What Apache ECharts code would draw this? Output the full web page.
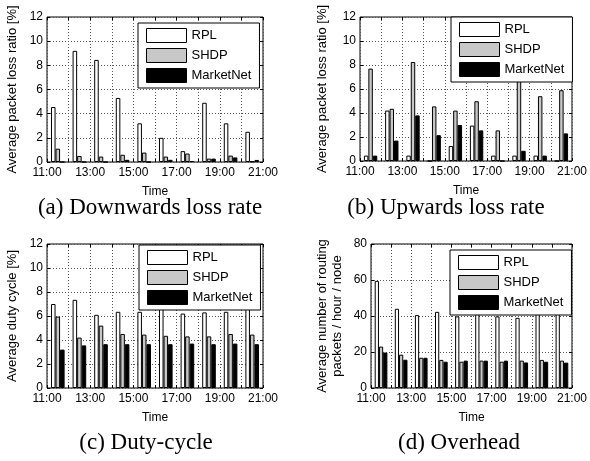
<!DOCTYPE html>
<html><head><meta charset="utf-8">
<script src="https://cdn.jsdelivr.net/npm/echarts@6/dist/echarts.min.js"></script>
<style>html,body{margin:0;padding:0;background:#fff}#c{width:590px;height:461px}</style>
</head><body><div id="c"></div>
<script>
// ---- data ----
const hourGroups = ['11:00','12:00','13:00','14:00','15:00','16:00','17:00','18:00','19:00','20:00'];
const xTickLabels = ['11:00','13:00','15:00','17:00','19:00','21:00'];
const seriesNames = ['RPL','SHDP','MarketNet'];

const downRPL  = [4.55, 9.2, 8.45, 5.3, 3.2, 2.0, 0.9, 4.9, 3.2, 2.5];
const downSHDP = [1.1, 0.5, 0.45, 0.6, 0.78, 0.45, 0.7, 0.28, 0.53, 0.05];
const downMN   = [0, 0, 0, 0.18, 0, 0.18, 0.08, 0.28, 0.38, 0.17];

const upRPL  = [0.45, 4.2, 0.45, 0, 1.25, 2.95, 0.45, 0.45, 0.45, 0];
const upSHDP = [7.7, 4.35, 8.25, 4.55, 4.2, 4.98, 2.55, 6.8, 5.4, 5.9];
const upMN   = [0.45, 1.7, 3.8, 2.15, 3.0, 2.55, 0, 0.85, 0.45, 2.3];

const dutyRPL  = [7.0, 7.35, 6.1, 6.35, 6.35, 7.2, 6.2, 6.3, 6.35, 6.6];
const dutySHDP = [5.95, 4.2, 5.2, 4.5, 4.45, 4.35, 4.3, 4.3, 4.5, 4.45];
const dutyMN   = [3.2, 3.55, 3.65, 3.65, 3.65, 3.65, 3.7, 3.65, 3.7, 3.65];

const overRPL  = [59.5, 44, 40.5, 42.3, 39.8, 44, 39.8, 39, 43.5, 45];
const overSHDP = [23, 18.5, 16.8, 15.6, 14.6, 15.2, 14.6, 15.2, 15.6, 15.2];
const overMN   = [19.7, 15.7, 16.8, 14.6, 15.2, 15.2, 15.2, 14.2, 14.6, 14.1];

const captions = ['(a) Downwards loss rate','(b) Upwards loss rate','(c) Duty-cycle','(d) Overhead'];
const yNames = ['Average packet loss ratio [%]','Average packet loss ratio [%]','Average duty cycle [%]','Average number of routing\npackets / hour / node'];
const xName = 'Time';

// ---- layout / style ----
const SANS = 'Liberation Sans';
const fills = ['#ffffff', '#c8c8c8', '#000000'];
const panels = [
  {rect:{left:47, top:17, width:216, height:145}, ymax:12, yint:2, nameGap:27, legend:{left:138, top:23}, data:[downRPL, downSHDP, downMN], cap:{x:150, y:208}},
  {rect:{left:360, top:17, width:214, height:144}, ymax:12, yint:2, nameGap:30, legend:{left:451, top:17}, data:[upRPL, upSHDP, upMN], cap:{x:446, y:208}},
  {rect:{left:47, top:244, width:216, height:144}, ymax:12, yint:2, nameGap:27, legend:{left:139, top:245}, data:[dutyRPL, dutySHDP, dutyMN], cap:{x:146, y:443}},
  {rect:{left:371, top:244, width:203, height:144}, ymax:80, yint:20, nameGap:26, legend:{left:450, top:250}, data:[overRPL, overSHDP, overMN], cap:{x:459, y:443}}
];

const grid = [], xAxis = [], yAxis = [], series = [], legend = [], graphic = [];
const tickFmt = v => { const s = v + ':00'; return xTickLabels.includes(s) ? s : ''; };
const dotted = {type:[1,2], color:'#555', width:1};

panels.forEach((p, i) => {
  grid.push(Object.assign({show:true, borderColor:'#000', borderWidth:1, backgroundColor:'#fff'}, p.rect));
  const xv = xAxis.length;
  xAxis.push({gridIndex:i, type:'value', min:11, max:21, interval:1, position:'bottom',
    axisLine:{show:false}, axisTick:{show:true, inside:true, length:3, lineStyle:{color:'#000'}},
    axisLabel:{formatter:tickFmt, color:'#000', fontSize:12, fontFamily:SANS, margin:5, showMinLabel:true, showMaxLabel:true},
    splitLine:{show:true, lineStyle:dotted},
    name:xName, nameLocation:'middle', nameGap:24, nameTextStyle:{color:'#000', fontSize:12, fontFamily:SANS}});
  const xc = xAxis.length;
  xAxis.push({gridIndex:i, type:'category', data:hourGroups, show:false, boundaryGap:true});
  xAxis.push({gridIndex:i, type:'value', min:11, max:21, interval:1, position:'top',
    axisLine:{show:false}, axisTick:{show:true, inside:true, length:3, lineStyle:{color:'#000'}},
    axisLabel:{show:false}, splitLine:{show:false}});
  const yl = yAxis.length;
  yAxis.push({gridIndex:i, type:'value', min:0, max:p.ymax, interval:p.yint, position:'left',
    axisLine:{show:false}, axisTick:{show:true, inside:true, length:3, lineStyle:{color:'#000'}},
    axisLabel:{color:'#000', fontSize:12, fontFamily:SANS, margin:4},
    splitLine:{show:true, lineStyle:dotted},
    name:yNames[i], nameLocation:'middle', nameRotate:90, nameGap:p.nameGap,
    nameTextStyle:{color:'#000', fontSize:13, fontFamily:SANS, lineHeight:15}});
  yAxis.push({gridIndex:i, type:'value', min:0, max:p.ymax, interval:p.yint, position:'right',
    axisLine:{show:false}, axisTick:{show:true, inside:true, length:3, lineStyle:{color:'#000'}},
    axisLabel:{show:false}, splitLine:{show:false}});
  seriesNames.forEach((nm, k) => {
    series.push({type:'bar', name:nm, xAxisIndex:xc, yAxisIndex:yl, data:p.data[k],
      barGap:'0%', barCategoryGap:'37%',
      itemStyle:{color:fills[k], borderColor:'#000', borderWidth:1}, silent:true});
  });
  legend.push({left:p.legend.left, top:p.legend.top, orient:'vertical', data:seriesNames, icon:'rect',
    itemWidth:40, itemHeight:14, itemGap:5, padding:[5,8,5,8], backgroundColor:'#fff',
    borderColor:'#000', borderWidth:1, selectedMode:false,
    itemStyle:{borderColor:'#000', borderWidth:1},
    textStyle:{fontSize:13, color:'#000', fontFamily:SANS}});
  graphic.push({type:'text', x:p.cap.x, y:p.cap.y, style:{text:captions[i], fill:'#000',
    font:'23px "Liberation Serif"', textAlign:'center', textVerticalAlign:'middle'}});
});

const chart = echarts.init(document.getElementById('c'), null, {renderer:'canvas'});
chart.setOption({animation:false, backgroundColor:'#fff', grid, xAxis, yAxis, series, legend, graphic});
</script>
</body></html>
